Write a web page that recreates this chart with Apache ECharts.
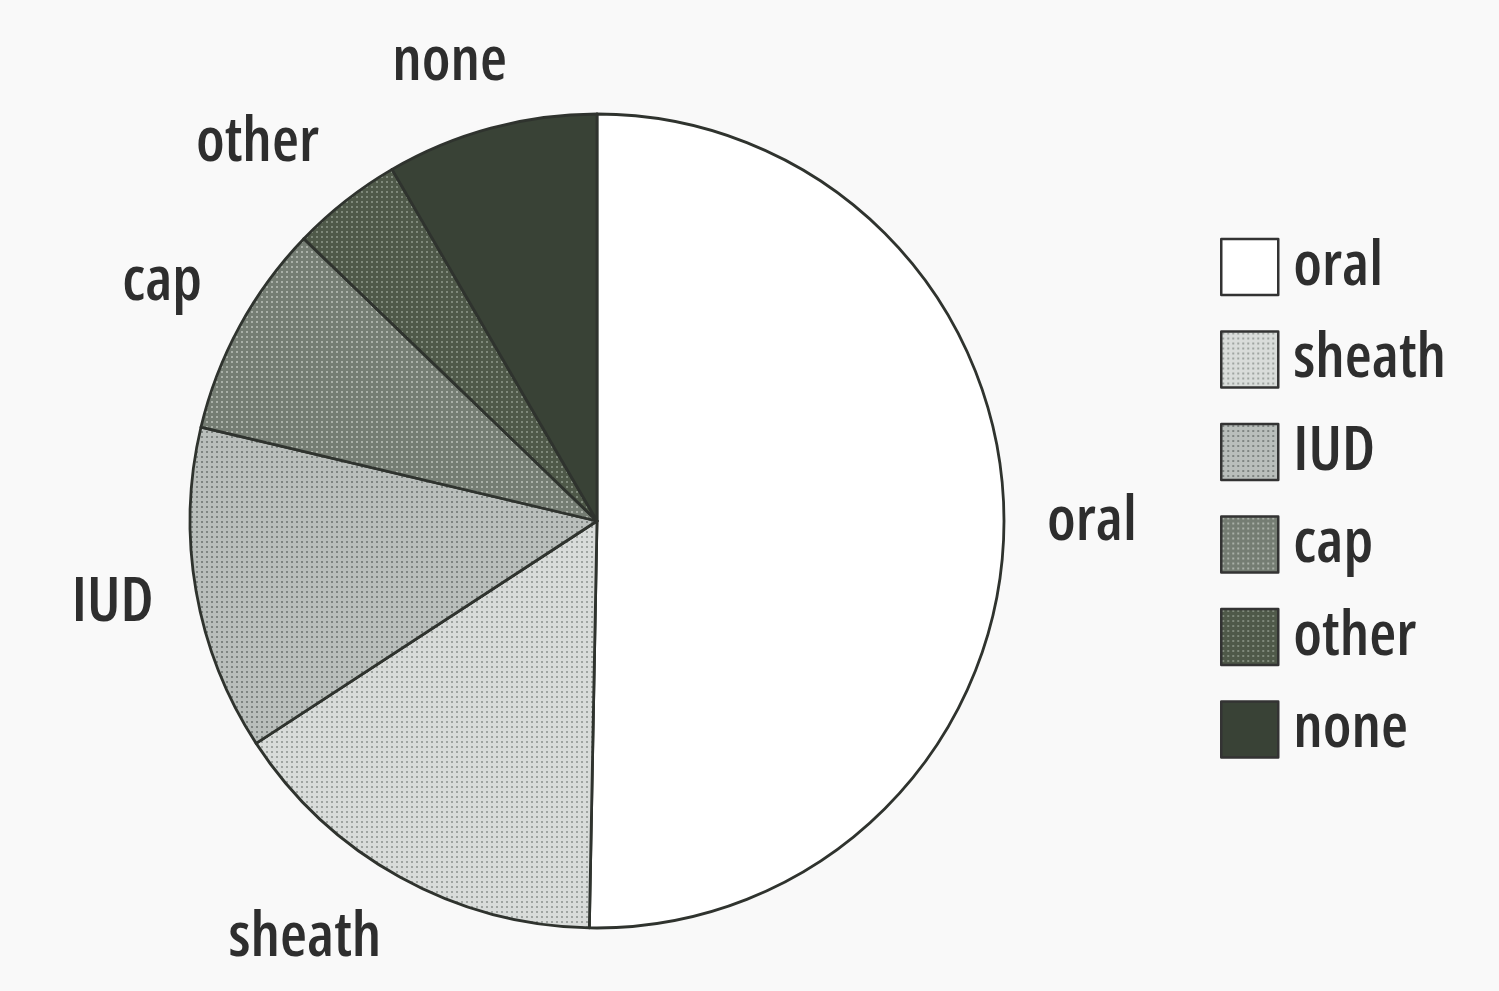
<!DOCTYPE html>
<html>
<head>
<meta charset="utf-8">
<title>Contraception methods</title>
<script src="https://cdn.jsdelivr.net/npm/echarts@6/dist/echarts.min.js"></script>
<style>
  html, body { margin: 0; padding: 0; background: #f9f9f9; }
  #chart { width: 1499px; height: 991px; }
</style>
</head>
<body>
<div id="chart"></div>
<script>
// Share of each method (percent)
const methods = ['oral', 'sheath', 'IUD', 'cap', 'other', 'none'];
const shares  = [50.3, 15.5, 12.9, 8.5, 4.4, 8.4];

// Dotted screen fills: [base colour, dot colour] per method; null = solid
const screens = [
  ['#ffffff', null],
  ['#d9dcda', '#9fa4a1'],
  ['#b9bebb', '#7e8481'],
  ['#757d73', '#aab0a8'],
  ['#4f5949', '#7f897b'],
  ['#394236', null]
];

function screenFill(base, dot) {
  if (!dot) return base;
  const c = document.createElement('canvas');
  c.width = 5; c.height = 5;
  const g = c.getContext('2d');
  g.fillStyle = base;
  g.fillRect(0, 0, 5, 5);
  g.fillStyle = dot;
  g.fillRect(1, 1, 2, 2);
  return { image: c, repeat: 'repeat' };
}

// Condensed sans face (the "condensed" keyword goes into the canvas font shorthand)
const TEXT = {
  fontFamily: "'Open Sans', 'Roboto', sans-serif",
  fontStyle: 'condensed',
  fontWeight: 600,
  fontSize: 62,
  color: '#2e2e2e'
};

const clamp01 = v => Math.max(0, Math.min(1, v));

const slices = methods.map((name, i) => ({
  name: name,
  value: shares[i],
  itemStyle: { color: screenFill(screens[i][0], screens[i][1]) }
}));

const chart = echarts.init(document.getElementById('chart'), null, { renderer: 'canvas' });

chart.setOption({
  backgroundColor: '#f9f9f9',
  animation: false,
  legend: {
    orient: 'vertical',
    left: 1215,
    top: 231,
    itemWidth: 57,
    itemHeight: 56,
    itemGap: 30.5,
    icon: 'rect',
    data: methods,
    selectedMode: false,
    itemStyle: { borderColor: '#333333', borderWidth: 2.5 },
    textStyle: Object.assign({}, TEXT, { lineHeight: 20, padding: [30, 0, 0, 10] })
  },
  series: [
    {
      type: 'pie',
      center: [597, 521],
      radius: [0, 407],
      startAngle: 90,
      clockwise: true,
      silent: true,
      avoidLabelOverlap: false,
      itemStyle: { borderColor: '#2f332e', borderWidth: 2.8 },
      emphasis: { disabled: true },
      label: Object.assign({
        show: true,
        position: 'outside',
        alignTo: 'none',
        formatter: '{b}',
        lineHeight: 48
      }, TEXT),
      // guide line kept for its anchor points only; never painted
      labelLine: {
        show: true,
        length: 43,
        length2: 0,
        lineStyle: { color: 'rgba(0,0,0,0)', opacity: 0 }
      },
      // each label hangs off the end of its radial guide, on the side away from the pie
      labelLayout: function (p) {
        const pts = p.labelLinePoints;
        if (!pts || pts.length < 2) return {};
        const ux = pts[1][0] - pts[0][0];
        const uy = pts[1][1] - pts[0][1];
        const len = Math.hypot(ux, uy) || 1;
        const s = ux / len;
        const c = -uy / len;
        const hf = clamp01((1 - 2 * s) / 2);
        const vf = clamp01((1 + 2 * c) / 2);
        return {
          x: pts[1][0] - hf * p.labelRect.width,
          // labels above the pie sit on their baseline
          y: pts[1][1] - vf * p.labelRect.height + 14 * vf * vf,
          align: 'left',
          verticalAlign: 'top'
        };
      },
      data: slices
    }
  ]
});
</script>
</body>
</html>
